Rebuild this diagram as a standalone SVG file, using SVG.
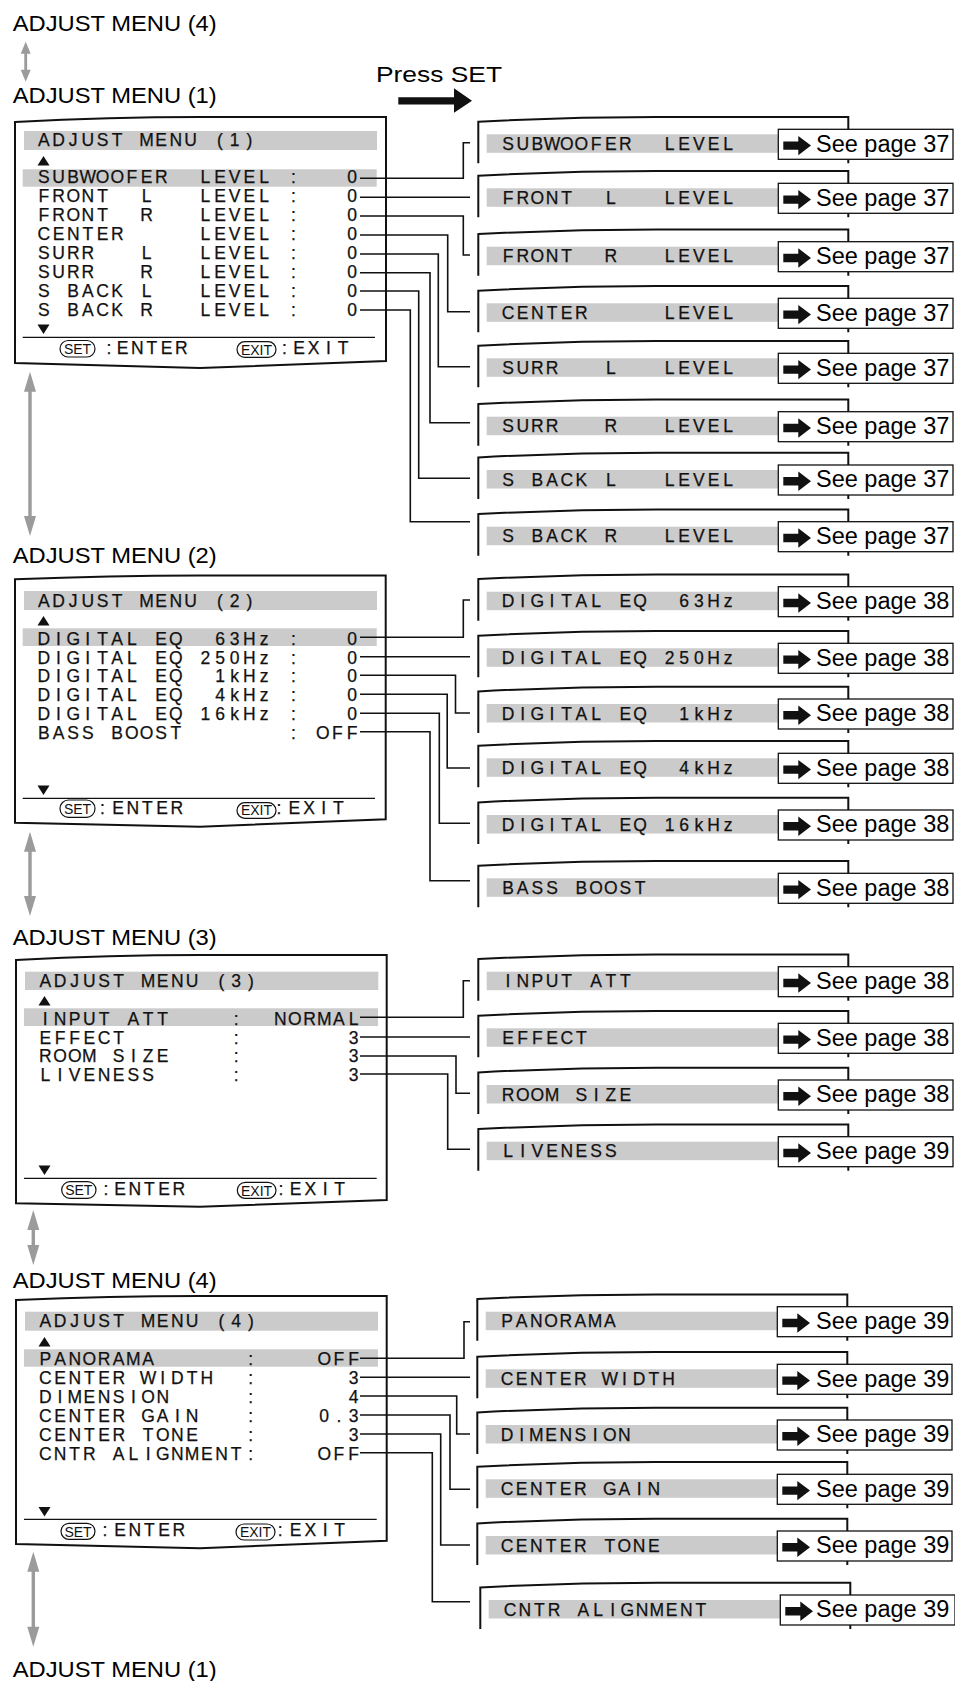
<svg xmlns="http://www.w3.org/2000/svg" xmlns:xlink="http://www.w3.org/1999/xlink" width="955" height="1681" viewBox="0 0 955 1681">
<style>
.lbl{font-family:"Liberation Sans",Arial,sans-serif;font-size:22px;fill:#000}
.mt{font-family:"Liberation Sans",Arial,sans-serif;font-size:17.5px;fill:#111;stroke:#111;stroke-width:0.25;text-anchor:middle}
.see{font-family:"Liberation Sans",Arial,sans-serif;font-size:23.5px;fill:#000}
.pt{font-family:"Liberation Sans",Arial,sans-serif;font-size:14px;fill:#111;text-anchor:middle}
.frame{fill:none;stroke:#111;stroke-width:2}
.bar{fill:#cbcbcb}
.conn{fill:none;stroke:#111;stroke-width:1.6}
.pill{fill:none;stroke:#111;stroke-width:1.2}
.ga{fill:#9b9b9b}
.sep{stroke:#111;stroke-width:1.3}
.blk{fill:#111}
</style>
<defs>
<g id="rbox">
<rect class="bar" x="486.7" y="0" width="292" height="18.5"/>
<path class="frame" d="M478.3,29 V-12.6 Q567,-17.3 656.7,-17.3 H848.3 V29"/>
<rect x="778.3" y="-5" width="174.7" height="30" fill="#fff" stroke="#111" stroke-width="1.3"/>
<path class="blk" d="M783.3,7.1 H798.3 V1.6 L811,11.3 L798.3,21 V15.5 H783.3 Z"/>
</g>
</defs>

<g id="labels">
<text class="lbl" x="12.7" y="31" textLength="204" lengthAdjust="spacingAndGlyphs">ADJUST MENU (4)</text>
<text class="lbl" x="12.7" y="103" textLength="204" lengthAdjust="spacingAndGlyphs">ADJUST MENU (1)</text>
<text class="lbl" x="12.7" y="563.3" textLength="204" lengthAdjust="spacingAndGlyphs">ADJUST MENU (2)</text>
<text class="lbl" x="12.7" y="945" textLength="204" lengthAdjust="spacingAndGlyphs">ADJUST MENU (3)</text>
<text class="lbl" x="12.7" y="1288.3" textLength="204" lengthAdjust="spacingAndGlyphs">ADJUST MENU (4)</text>
<text class="lbl" x="12.7" y="1676.7" textLength="204" lengthAdjust="spacingAndGlyphs">ADJUST MENU (1)</text>
</g>

<g id="press-set">
<text class="lbl" x="376" y="81.7" font-size="23" textLength="126" lengthAdjust="spacingAndGlyphs">Press SET</text>
<path class="blk" d="M398.3,97.3 H454 V88.3 L472,100.7 L454,112.7 V104.5 H398.3 Z"/>
</g>

<g id="menu1">
<path class="frame" d="M15,122 Q110,117 200,117 H386 V361 L200,368 L15,363 Z"/>
<rect class="bar" x="24" y="131" width="353" height="19"/>
<text class="mt" y="146" x="43.8 58.5 73.2 87.8 102.5 117.2 131.9 146.6 161.2 175.9 190.6 205.3 220 234.6 249.3">ADJUST MENU (1)</text>
<path class="blk" d="M37.5,165.5 L43.5,156 L49.5,165.5 Z"/>
<rect class="bar" x="22.7" y="169.3" width="354" height="17.4"/>
<text class="mt" y="183.3" x="43.8 58.5 73.2 87.8 102.5 117.2 131.9 146.6 161.2 175.9 205.3 220 234.6 249.3 264 278.7 293.4 308 352.1">SUBWOOFER LEVEL : 0</text>
<text class="mt" y="202.2" x="43.8 58.5 73.2 87.8 102.5 117.2 146.6 161.2 205.3 220 234.6 249.3 264 278.7 293.4 308 352.1">FRONT L LEVEL : 0</text>
<text class="mt" y="221.1" x="43.8 58.5 73.2 87.8 102.5 117.2 146.6 161.2 205.3 220 234.6 249.3 264 278.7 293.4 308 352.1">FRONT R LEVEL : 0</text>
<text class="mt" y="240" x="43.8 58.5 73.2 87.8 102.5 117.2 131.9 205.3 220 234.6 249.3 264 278.7 293.4 308 352.1">CENTER LEVEL : 0</text>
<text class="mt" y="258.9" x="43.8 58.5 73.2 87.8 102.5 146.6 161.2 205.3 220 234.6 249.3 264 278.7 293.4 308 352.1">SURR L LEVEL : 0</text>
<text class="mt" y="277.8" x="43.8 58.5 73.2 87.8 102.5 146.6 161.2 205.3 220 234.6 249.3 264 278.7 293.4 308 352.1">SURR R LEVEL : 0</text>
<text class="mt" y="296.7" x="43.8 58.5 73.2 87.8 102.5 117.2 131.9 146.6 161.2 205.3 220 234.6 249.3 264 278.7 293.4 308 352.1">S BACK L LEVEL : 0</text>
<text class="mt" y="315.6" x="43.8 58.5 73.2 87.8 102.5 117.2 131.9 146.6 161.2 205.3 220 234.6 249.3 264 278.7 293.4 308 352.1">S BACK R LEVEL : 0</text>
<path class="blk" d="M37.5,324.5 L49.5,324.5 L43.5,334 Z"/>
<line class="sep" x1="22.7" y1="337.3" x2="375" y2="337.3"/>
<rect class="pill" x="60" y="340.5" width="35" height="16.5" rx="8.2"/>
<text class="pt" x="77.5" y="354">SET</text>
<text class="mt" y="354" x="109 115 122.5 137.2 151.9 166.5 181.2">: ENTER</text>
<rect class="pill" x="237" y="341.7" width="39" height="15.7" rx="7.8"/>
<text class="pt" x="256.5" y="355">EXIT</text>
<text class="mt" y="354" x="284.5 290 299 313.7 328.4 343">: EXIT</text>
</g>

<g id="menu2">
<path class="frame" d="M15,579.3 Q110,575.5 200,575.5 H385.7 V819.3 L200,826.7 L15,822.7 Z"/>
<rect class="bar" x="24" y="591" width="353" height="19"/>
<text class="mt" y="607.3" x="43.8 58.5 73.2 87.8 102.5 117.2 131.9 146.6 161.2 175.9 190.6 205.3 220 234.6 249.3">ADJUST MENU (2)</text>
<path class="blk" d="M37.5,625.5 L43.5,616 L49.5,625.5 Z"/>
<rect class="bar" x="22.7" y="628.3" width="354" height="17.7"/>
<text class="mt" y="645" x="43.8 58.5 73.2 87.8 102.5 117.2 131.9 146.6 161.2 175.9 190.6 220 234.6 249.3 264 278.7 293.4 308 352.1">DIGITAL EQ 63Hz : 0</text>
<text class="mt" y="663.7" x="43.8 58.5 73.2 87.8 102.5 117.2 131.9 146.6 161.2 175.9 190.6 205.3 220 234.6 249.3 264 278.7 293.4 308 352.1">DIGITAL EQ 250Hz : 0</text>
<text class="mt" y="682.4" x="43.8 58.5 73.2 87.8 102.5 117.2 131.9 146.6 161.2 175.9 190.6 220 234.6 249.3 264 278.7 293.4 308 352.1">DIGITAL EQ 1kHz : 0</text>
<text class="mt" y="701.1" x="43.8 58.5 73.2 87.8 102.5 117.2 131.9 146.6 161.2 175.9 190.6 220 234.6 249.3 264 278.7 293.4 308 352.1">DIGITAL EQ 4kHz : 0</text>
<text class="mt" y="719.8" x="43.8 58.5 73.2 87.8 102.5 117.2 131.9 146.6 161.2 175.9 190.6 205.3 220 234.6 249.3 264 278.7 293.4 308 352.1">DIGITAL EQ 16kHz : 0</text>
<text class="mt" y="738.5" x="43.8 58.5 73.2 87.8 102.5 117.2 131.9 146.6 161.2 175.9 190.6 293.4 308 322.7 337.4 352.1">BASS BOOST : OFF</text>
<path class="blk" d="M37.5,785.5 L49.5,785.5 L43.5,795 Z"/>
<line class="sep" x1="22.7" y1="798.3" x2="375" y2="798.3"/>
<rect class="pill" x="60" y="800" width="35" height="17.3" rx="8.5"/>
<text class="pt" x="77.5" y="814">SET</text>
<text class="mt" y="814" x="102.5 108 118 132.7 147.4 162 176.7">: ENTER</text>
<rect class="pill" x="237" y="802.7" width="39" height="15.6" rx="7.8"/>
<text class="pt" x="256.5" y="815">EXIT</text>
<text class="mt" y="814" x="279 285 294.3 309 323.7 338.3">: EXIT</text>
</g>

<g id="menu3">
<path class="frame" d="M16,960 Q110,955 200,955 H386.7 V1200 L200,1206.7 L16,1203.3 Z"/>
<rect class="bar" x="25" y="971.7" width="353.3" height="18.3"/>
<text class="mt" y="986.7" x="45.3 60 74.7 89.3 104 118.7 133.4 148.1 162.7 177.4 192.1 206.8 221.5 236.1 250.8">ADJUST MENU (3)</text>
<path class="blk" d="M38.5,1005.5 L44.5,996 L50.5,1005.5 Z"/>
<rect class="bar" x="24" y="1008.3" width="354" height="17.7"/>
<text class="mt" y="1025" x="45.3 60 74.7 89.3 104 118.7 133.4 148.1 162.7 177.4 236.1 250.8 280.2 294.9 309.5 324.2 338.9 353.6">INPUT ATT : NORMAL</text>
<text class="mt" y="1043.5" x="45.3 60 74.7 89.3 104 118.7 133.4 236.1 250.8 353.6">EFFECT : 3</text>
<text class="mt" y="1062.2" x="45.3 60 74.7 89.3 104 118.7 133.4 148.1 162.7 177.4 236.1 250.8 353.6">ROOM SIZE : 3</text>
<text class="mt" y="1080.7" x="45.3 60 74.7 89.3 104 118.7 133.4 148.1 162.7 236.1 250.8 353.6">LIVENESS : 3</text>
<path class="blk" d="M38.5,1165.5 L50.5,1165.5 L44.5,1175 Z"/>
<line class="sep" x1="24" y1="1178.3" x2="376.7" y2="1178.3"/>
<rect class="pill" x="61.7" y="1181.7" width="34.3" height="16.6" rx="8.3"/>
<text class="pt" x="78.8" y="1195">SET</text>
<text class="mt" y="1195" x="106 112 120 134.7 149.4 164 178.7">: ENTER</text>
<rect class="pill" x="237.3" y="1182.3" width="38.7" height="16" rx="8"/>
<text class="pt" x="256.6" y="1196">EXIT</text>
<text class="mt" y="1195" x="281 287 295.7 310.4 325.1 339.7">: EXIT</text>
</g>

<g id="menu4">
<path class="frame" d="M16,1300 Q110,1296 200,1296 H386.7 V1540.7 L200,1548.3 L16,1544 Z"/>
<rect class="bar" x="25" y="1311.7" width="353" height="19"/>
<text class="mt" y="1327.3" x="45.3 60 74.7 89.3 104 118.7 133.4 148.1 162.7 177.4 192.1 206.8 221.5 236.1 250.8">ADJUST MENU (4)</text>
<path class="blk" d="M38.5,1346.5 L44.5,1337 L50.5,1346.5 Z"/>
<rect class="bar" x="24" y="1349.3" width="354" height="17.4"/>
<text class="mt" y="1365" x="45.3 60 74.7 89.3 104 118.7 133.4 148.1 162.7 250.8 265.5 324.2 338.9 353.6">PANORAMA : OFF</text>
<text class="mt" y="1383.9" x="45.3 60 74.7 89.3 104 118.7 133.4 148.1 162.7 177.4 192.1 206.8 221.5 250.8 265.5 353.6">CENTER WIDTH : 3</text>
<text class="mt" y="1402.8" x="45.3 60 74.7 89.3 104 118.7 133.4 148.1 162.7 177.4 250.8 265.5 353.6">DIMENSION : 4</text>
<text class="mt" y="1421.7" x="45.3 60 74.7 89.3 104 118.7 133.4 148.1 162.7 177.4 192.1 206.8 250.8 265.5 324.2 338.9 353.6">CENTER GAIN : 0.3</text>
<text class="mt" y="1440.6" x="45.3 60 74.7 89.3 104 118.7 133.4 148.1 162.7 177.4 192.1 206.8 250.8 265.5 353.6">CENTER TONE : 3</text>
<text class="mt" y="1459.5" x="45.3 60 74.7 89.3 104 118.7 133.4 148.1 162.7 177.4 192.1 206.8 221.5 236.1 250.8 265.5 324.2 338.9 353.6">CNTR ALIGNMENT: OFF</text>
<path class="blk" d="M38.5,1507 L50.5,1507 L44.5,1516.5 Z"/>
<line class="sep" x1="24" y1="1519.3" x2="376.7" y2="1519.3"/>
<rect class="pill" x="61" y="1523.3" width="34" height="16" rx="8"/>
<text class="pt" x="78" y="1536.5">SET</text>
<text class="mt" y="1536" x="105 111 120 134.7 149.4 164 178.7">: ENTER</text>
<rect class="pill" x="236" y="1524" width="39" height="16" rx="8"/>
<text class="pt" x="255.5" y="1537">EXIT</text>
<text class="mt" y="1536" x="280.3 286 295.7 310.4 325.1 339.7">: EXIT</text>
</g>

<g id="connectors">
<path class="ga" d="M25.7,41.7 L30.7,53.7 L27.1,53.7 L27.1,69.7 L30.7,69.7 L25.7,81.7 L20.7,69.7 L24.3,69.7 L24.3,53.7 L20.7,53.7 Z"/>
<path class="ga" d="M30,371.7 L36,391.7 L31.7,391.7 L31.7,516 L36,516 L30,536 L24,516 L28.3,516 L28.3,391.7 L24,391.7 Z"/>
<path class="ga" d="M30,831.7 L36,851.7 L31.7,851.7 L31.7,896 L36,896 L30,916 L24,896 L28.3,896 L28.3,851.7 L24,851.7 Z"/>
<path class="ga" d="M33.3,1210 L39.3,1230 L35,1230 L35,1245 L39.3,1245 L33.3,1265 L27.3,1245 L31.6,1245 L31.6,1230 L27.3,1230 Z"/>
<path class="ga" d="M33.3,1551.7 L39.3,1571.7 L35,1571.7 L35,1626.7 L39.3,1626.7 L33.3,1646.7 L27.3,1626.7 L31.6,1626.7 L31.6,1571.7 L27.3,1571.7 Z"/>
<path class="conn" d="M360,178.3 H463.3 V142.7 H470"/>
<path class="conn" d="M360,197.3 H470"/>
<path class="conn" d="M360,216 H463.3 V255 H470"/>
<path class="conn" d="M360,235 H447.7 V311.7 H470"/>
<path class="conn" d="M360,254 H438.3 V366.7 H470"/>
<path class="conn" d="M360,272.7 H430 V422.7 H470"/>
<path class="conn" d="M360,291 H418.7 V478.3 H470"/>
<path class="conn" d="M360,310 H410.3 V521.7 H470"/>
<path class="conn" d="M360,637.3 H463.3 V600 H470"/>
<path class="conn" d="M360,656.7 H470"/>
<path class="conn" d="M360,675.3 H455.5 V713 H470"/>
<path class="conn" d="M360,694.3 H447.2 V768 H470"/>
<path class="conn" d="M360,713.3 H439.3 V823.3 H470"/>
<path class="conn" d="M360,731.7 H430 V880.7 H470"/>
<path class="conn" d="M360,1017.3 H463.3 V980.7 H470"/>
<path class="conn" d="M360,1037 H470"/>
<path class="conn" d="M360,1056 H456 V1093.3 H470"/>
<path class="conn" d="M360,1074 H447.7 V1149.3 H470"/>
<path class="conn" d="M360,1358.3 H464 V1321.7 H470"/>
<path class="conn" d="M360,1377.3 H470"/>
<path class="conn" d="M360,1396 H456.7 V1434 H470"/>
<path class="conn" d="M360,1415 H450 V1489.3 H470"/>
<path class="conn" d="M360,1434 H440.7 V1545 H470"/>
<path class="conn" d="M360,1452.7 H432.3 V1601.7 H470"/>
</g>

<g id="r1-1" transform="translate(0,134.3)"><use href="#rbox" xlink:href="#rbox"/><text class="mt" y="15.7" x="508 522.7 537.4 552 566.7 581.4 596.1 610.8 625.4 640.1 669.5 684.2 698.8 713.5 728.2">SUBWOOFER LEVEL</text><text class="see" x="816" y="17.4">See page 37</text></g>
<g id="r1-2" transform="translate(0,188.3)"><use href="#rbox" xlink:href="#rbox"/><text class="mt" y="15.7" x="508 522.7 537.4 552 566.7 581.4 610.8 625.4 669.5 684.2 698.8 713.5 728.2">FRONT L LEVEL</text><text class="see" x="816" y="17.4">See page 37</text></g>
<g id="r1-3" transform="translate(0,246.7)"><use href="#rbox" xlink:href="#rbox"/><text class="mt" y="15.7" x="508 522.7 537.4 552 566.7 581.4 610.8 625.4 669.5 684.2 698.8 713.5 728.2">FRONT R LEVEL</text><text class="see" x="816" y="17.4">See page 37</text></g>
<g id="r1-4" transform="translate(0,303.3)"><use href="#rbox" xlink:href="#rbox"/><text class="mt" y="15.7" x="508 522.7 537.4 552 566.7 581.4 596.1 669.5 684.2 698.8 713.5 728.2">CENTER LEVEL</text><text class="see" x="816" y="17.4">See page 37</text></g>
<g id="r1-5" transform="translate(0,358.3)"><use href="#rbox" xlink:href="#rbox"/><text class="mt" y="15.7" x="508 522.7 537.4 552 566.7 610.8 625.4 669.5 684.2 698.8 713.5 728.2">SURR L LEVEL</text><text class="see" x="816" y="17.4">See page 37</text></g>
<g id="r1-6" transform="translate(0,416.7)"><use href="#rbox" xlink:href="#rbox"/><text class="mt" y="15.7" x="508 522.7 537.4 552 566.7 610.8 625.4 669.5 684.2 698.8 713.5 728.2">SURR R LEVEL</text><text class="see" x="816" y="17.4">See page 37</text></g>
<g id="r1-7" transform="translate(0,470)"><use href="#rbox" xlink:href="#rbox"/><text class="mt" y="15.7" x="508 522.7 537.4 552 566.7 581.4 596.1 610.8 625.4 669.5 684.2 698.8 713.5 728.2">S BACK L LEVEL</text><text class="see" x="816" y="17.4">See page 37</text></g>
<g id="r1-8" transform="translate(0,526.7)"><use href="#rbox" xlink:href="#rbox"/><text class="mt" y="15.7" x="508 522.7 537.4 552 566.7 581.4 596.1 610.8 625.4 669.5 684.2 698.8 713.5 728.2">S BACK R LEVEL</text><text class="see" x="816" y="17.4">See page 37</text></g>

<g id="r2-1" transform="translate(0,591.7)"><use href="#rbox" xlink:href="#rbox"/><text class="mt" y="15.7" x="508 522.7 537.4 552 566.7 581.4 596.1 610.8 625.4 640.1 654.8 684.2 698.8 713.5 728.2">DIGITAL EQ 63Hz</text><text class="see" x="816" y="17.4">See page 38</text></g>
<g id="r2-2" transform="translate(0,648.3)"><use href="#rbox" xlink:href="#rbox"/><text class="mt" y="15.7" x="508 522.7 537.4 552 566.7 581.4 596.1 610.8 625.4 640.1 654.8 669.5 684.2 698.8 713.5 728.2">DIGITAL EQ 250Hz</text><text class="see" x="816" y="17.4">See page 38</text></g>
<g id="r2-3" transform="translate(0,704)"><use href="#rbox" xlink:href="#rbox"/><text class="mt" y="15.7" x="508 522.7 537.4 552 566.7 581.4 596.1 610.8 625.4 640.1 654.8 684.2 698.8 713.5 728.2">DIGITAL EQ 1kHz</text><text class="see" x="816" y="17.4">See page 38</text></g>
<g id="r2-4" transform="translate(0,758.3)"><use href="#rbox" xlink:href="#rbox"/><text class="mt" y="15.7" x="508 522.7 537.4 552 566.7 581.4 596.1 610.8 625.4 640.1 654.8 684.2 698.8 713.5 728.2">DIGITAL EQ 4kHz</text><text class="see" x="816" y="17.4">See page 38</text></g>
<g id="r2-5" transform="translate(0,815)"><use href="#rbox" xlink:href="#rbox"/><text class="mt" y="15.7" x="508 522.7 537.4 552 566.7 581.4 596.1 610.8 625.4 640.1 654.8 669.5 684.2 698.8 713.5 728.2">DIGITAL EQ 16kHz</text><text class="see" x="816" y="17.4">See page 38</text></g>
<g id="r2-6" transform="translate(0,878.3)"><use href="#rbox" xlink:href="#rbox"/><text class="mt" y="15.7" x="508 522.7 537.4 552 566.7 581.4 596.1 610.8 625.4 640.1">BASS BOOST</text><text class="see" x="816" y="17.4">See page 38</text></g>

<g id="r3-1" transform="translate(0,971.7)"><use href="#rbox" xlink:href="#rbox"/><text class="mt" y="15.7" x="508 522.7 537.4 552 566.7 581.4 596.1 610.8 625.4">INPUT ATT</text><text class="see" x="816" y="17.4">See page 38</text></g>
<g id="r3-2" transform="translate(0,1028.3)"><use href="#rbox" xlink:href="#rbox"/><text class="mt" y="15.7" x="508 522.7 537.4 552 566.7 581.4">EFFECT</text><text class="see" x="816" y="17.4">See page 38</text></g>
<g id="r3-3" transform="translate(0,1085)"><use href="#rbox" xlink:href="#rbox"/><text class="mt" y="15.7" x="508 522.7 537.4 552 566.7 581.4 596.1 610.8 625.4">ROOM SIZE</text><text class="see" x="816" y="17.4">See page 38</text></g>
<g id="r3-4" transform="translate(0,1141.7)"><use href="#rbox" xlink:href="#rbox"/><text class="mt" y="15.7" x="508 522.7 537.4 552 566.7 581.4 596.1 610.8">LIVENESS</text><text class="see" x="816" y="17.4">See page 39</text></g>

<g id="r4-1" transform="translate(-1,1311.7)"><use href="#rbox" xlink:href="#rbox"/><text class="mt" y="15.7" x="508 522.7 537.4 552 566.7 581.4 596.1 610.8">PANORAMA</text><text class="see" x="817" y="17.4">See page 39</text></g>
<g id="r4-2" transform="translate(-1,1369.3)"><use href="#rbox" xlink:href="#rbox"/><text class="mt" y="15.7" x="508 522.7 537.4 552 566.7 581.4 596.1 610.8 625.4 640.1 654.8 669.5">CENTER WIDTH</text><text class="see" x="817" y="17.4">See page 39</text></g>
<g id="r4-3" transform="translate(-1,1425)"><use href="#rbox" xlink:href="#rbox"/><text class="mt" y="15.7" x="508 522.7 537.4 552 566.7 581.4 596.1 610.8 625.4">DIMENSION</text><text class="see" x="817" y="17.4">See page 39</text></g>
<g id="r4-4" transform="translate(-1,1479.3)"><use href="#rbox" xlink:href="#rbox"/><text class="mt" y="15.7" x="508 522.7 537.4 552 566.7 581.4 596.1 610.8 625.4 640.1 654.8">CENTER GAIN</text><text class="see" x="817" y="17.4">See page 39</text></g>
<g id="r4-5" transform="translate(-1,1536)"><use href="#rbox" xlink:href="#rbox"/><text class="mt" y="15.7" x="508 522.7 537.4 552 566.7 581.4 596.1 610.8 625.4 640.1 654.8">CENTER TONE</text><text class="see" x="817" y="17.4">See page 39</text></g>
<g id="r4-6" transform="translate(2,1600)"><use href="#rbox" xlink:href="#rbox"/><text class="mt" y="15.7" x="508 522.7 537.4 552 566.7 581.4 596.1 610.8 625.4 640.1 654.8 669.5 684.2 698.8">CNTR ALIGNMENT</text><text class="see" x="814" y="17.4">See page 39</text></g>
</svg>
